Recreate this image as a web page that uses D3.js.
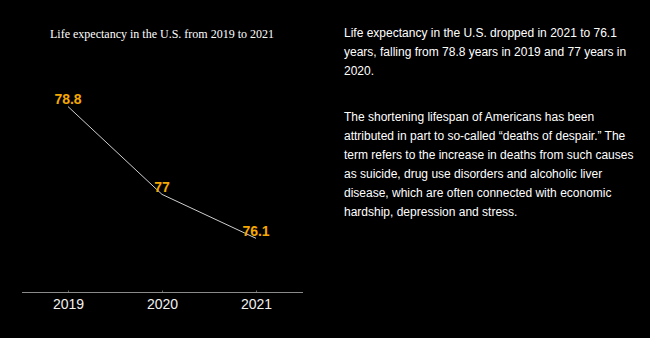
<!DOCTYPE html>
<html><head><meta charset="utf-8">
<script src="https://cdn.jsdelivr.net/npm/d3@7"></script>
<style>
html,body{margin:0;padding:0;background:#000;}
svg{display:block;}
</style></head>
<body>
<script>
const years = ["2019", "2020", "2021"];
const lifeExpectancy = [78.8, 77, 76.1];
const valueLabels = ["78.8", "77", "76.1"];
const chartTitle = "Life expectancy in the U.S. from 2019 to 2021";
const paragraph1 = [
  "Life expectancy in the U.S. dropped in 2021 to 76.1",
  "years, falling from 78.8 years in 2019 and 77 years in",
  "2020."
];
const paragraph2 = [
  "The shortening lifespan of Americans has been",
  "attributed in part to so-called \u201cdeaths of despair.\u201d The",
  "term refers to the increase in deaths from such causes",
  "as suicide, drug use disorders and alcoholic liver",
  "disease, which are often connected with economic",
  "hardship, depression and stress."
];

const W = 650, H = 338;
const svg = d3.select("body").append("svg").attr("width", W).attr("height", H)
  .style("background", "#000");

const x = d3.scalePoint().domain(years).range([68, 256]);
const y = d3.scaleLinear().domain([75, 80]).range([292, 48]);

svg.append("text").attr("x", 162).attr("y", 38).attr("text-anchor", "middle")
  .attr("fill", "#fff").style("font-family", "'Liberation Serif', serif").style("font-size", "12px")
  .text(chartTitle);

const axis = d3.axisBottom(x).tickSize(2).tickPadding(5);
const gx = svg.append("g").attr("transform", "translate(0,292.5)").call(axis);
gx.select(".domain").remove();
gx.append("line").attr("x1", 22).attr("x2", 303).attr("stroke", "#8a8a8a").attr("stroke-width", 1.2);
gx.selectAll(".tick line").attr("stroke", "#666").attr("y1", -2).attr("y2", 0);
gx.selectAll(".tick text").attr("fill", "#f2f2f2").style("font-family", "'Liberation Sans', Arial, sans-serif").style("font-size", "14px");

const data = years.map((yr, i) => ({yr, v: lifeExpectancy[i], lab: valueLabels[i]}));
svg.append("path").datum(data)
  .attr("d", d3.line().x(d => x(d.yr)).y(d => y(d.v)))
  .attr("fill", "none").attr("stroke", "#cfcfcf").attr("stroke-width", 1);

svg.selectAll(".vl").data(data).enter().append("text").attr("class", "vl")
  .attr("x", d => x(d.yr)).attr("y", d => y(d.v) - 2.5).attr("text-anchor", "middle")
  .attr("fill", "#f5a800").style("font-family", "'Liberation Sans', Arial, sans-serif")
  .style("font-size", "14px").style("font-weight", "bold").text(d => d.lab);

function para(lines, y0) {
  const t = svg.append("text").attr("fill", "#fff")
    .style("font-family", "'Liberation Sans', Arial, sans-serif").style("font-size", "12px");
  lines.forEach((l, i) => t.append("tspan").attr("x", 344).attr("y", y0 + i * 19).text(l));
}
para(paragraph1, 37);
para(paragraph2, 121);
</script>
</body></html>
